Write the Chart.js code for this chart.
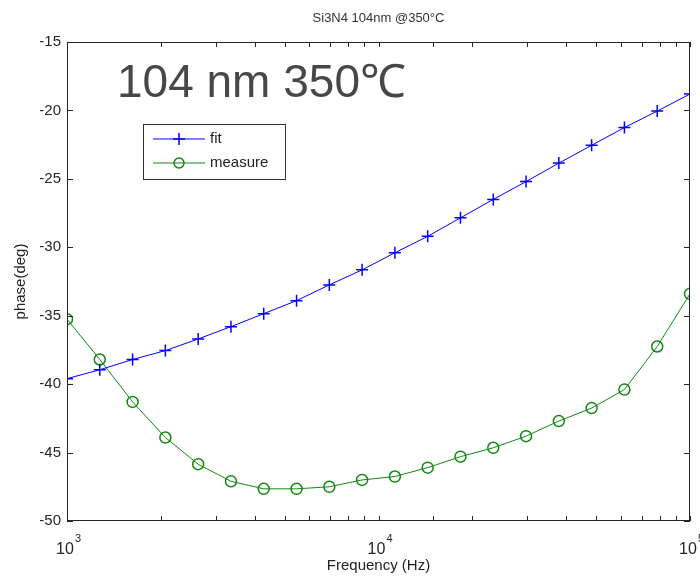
<!DOCTYPE html>
<html>
<head>
<meta charset="UTF-8">
<title>Si3N4 104nm @350°C</title>
<script src="https://cdn.jsdelivr.net/npm/chart.js"></script>
<style>
    body { margin: 0; background: #ffffff; }
    #wrap { width: 700px; height: 577px; }
</style>
</head>
<body>
<div id="wrap"><canvas id="phaseChart" width="700" height="577"></canvas></div>
<script>
// frequencies (Hz), 20 log-spaced points
const freqs = [1000, 1274, 1624, 2069, 2637, 3360, 4281, 5456, 6952, 8859,
               11288, 14384, 18330, 23357, 29764, 37927, 48329, 61585, 78476, 100000];
const fitPhase = [-39.6, -38.95, -38.2, -37.55, -36.7, -35.8, -34.85, -33.9, -32.75, -31.65,
                  -30.4, -29.2, -27.85, -26.5, -25.2, -23.85, -22.55, -21.25, -20.05, -18.8];
const measurePhase = [-35.25, -38.2, -41.3, -43.9, -45.85, -47.1, -47.65, -47.65, -47.5, -47.0,
                      -46.75, -46.1, -45.3, -44.65, -43.8, -42.7, -41.75, -40.4, -37.25, -33.4];
const yTicks = [-50, -45, -40, -35, -30, -25, -20, -15];

const FONT = "'Liberation Sans Narrow', 'Arial Narrow', 'Liberation Sans', Arial, sans-serif";
const AXIS = '#262626';

function toPoints(xs, ys) {
    return xs.map((x, i) => ({ x: x, y: ys[i] }));
}

// box, inward ticks, superscript x labels, title, legend and big note
const matlabLook = {
    id: 'matlabLook',
    afterDraw(chart) {
        const ctx = chart.ctx;
        const a = chart.chartArea;
        const xs = chart.scales.x;
        const ys = chart.scales.y;
        ctx.save();

        // frame
        ctx.strokeStyle = AXIS;
        ctx.lineWidth = 1;
        ctx.strokeRect(a.left + 0.5, a.top + 0.5, a.right - a.left - 1, a.bottom - a.top - 1);

        // x ticks (top & bottom, inward)
        ctx.beginPath();
        xs.ticks.forEach(t => {
            const px = Math.round(xs.getPixelForValue(t.value)) + 0.5;
            ctx.moveTo(px, a.bottom);
            ctx.lineTo(px, a.bottom - 5);
            ctx.moveTo(px, a.top);
            ctx.lineTo(px, a.top + 5);
        });
        // y ticks (left & right, inward)
        yTicks.forEach(v => {
            const py = Math.round(ys.getPixelForValue(v)) + 0.5;
            ctx.moveTo(a.left, py);
            ctx.lineTo(a.left + 6, py);
            ctx.moveTo(a.right, py);
            ctx.lineTo(a.right - 6, py);
        });
        ctx.stroke();

        // x labels with superscript exponent
        ctx.fillStyle = AXIS;
        xs.ticks.forEach(t => {
            const exp = Math.log10(t.value);
            if (Math.abs(exp - Math.round(exp)) > 1e-9) return;
            const px = xs.getPixelForValue(t.value);
            ctx.font = '16px ' + FONT;
            const w = ctx.measureText('10').width;
            ctx.textAlign = 'left';
            ctx.textBaseline = 'alphabetic';
            ctx.fillText('10', px - w / 2 - 2, a.bottom + 33);
            ctx.font = '11px ' + FONT;
            ctx.fillText(String(Math.round(exp)), px + w / 2 - 1, a.bottom + 21);
        });

        // title
        ctx.font = '13px ' + FONT;
        ctx.textAlign = 'center';
        ctx.textBaseline = 'middle';
        ctx.fillStyle = '#333333';
        ctx.fillText('Si3N4 104nm @350°C', (a.left + a.right) / 2, 18);

        // big note
        ctx.font = "46px 'Liberation Sans', Arial, sans-serif";
        ctx.textAlign = 'left';
        ctx.textBaseline = 'alphabetic';
        ctx.fillStyle = '#474747';
        ctx.fillText('104 nm 350\u2103', 117, 97);

        // legend
        const lx = 143, ly = 124, lw = 142, lh = 55;
        ctx.fillStyle = '#ffffff';
        ctx.fillRect(lx, ly, lw, lh);
        ctx.strokeStyle = '#333333';
        ctx.lineWidth = 1;
        ctx.strokeRect(lx + 0.5, ly + 0.5, lw, lh);
        chart.data.datasets.forEach((ds, i) => {
            const y = ly + 15 + i * 24;
            ctx.strokeStyle = ds.borderColor;
            ctx.lineWidth = 1;
            ctx.beginPath();
            ctx.moveTo(lx + 10, y);
            ctx.lineTo(lx + 62, y);
            ctx.stroke();
            ctx.lineWidth = 1.5;
            ctx.beginPath();
            if (ds.pointStyle === 'circle') {
                ctx.arc(lx + 36, y, 5, 0, Math.PI * 2);
            } else {
                ctx.moveTo(lx + 36, y - 6);
                ctx.lineTo(lx + 36, y + 6);
                ctx.moveTo(lx + 30, y);
                ctx.lineTo(lx + 42, y);
            }
            ctx.stroke();
            ctx.fillStyle = '#222222';
            ctx.font = '15px ' + FONT;
            ctx.textBaseline = 'middle';
            ctx.fillText(ds.label, lx + 67, y);
        });
        ctx.restore();
    }
};

new Chart(document.getElementById('phaseChart'), {
    type: 'line',
    data: {
        datasets: [
            {
                label: 'fit',
                data: toPoints(freqs, fitPhase),
                borderColor: '#0000ff',
                backgroundColor: '#0000ff',
                borderWidth: 1,
                pointStyle: 'cross',
                pointRadius: 6,
                pointBorderWidth: 1.5,
                pointBorderColor: '#0000ff',
                tension: 0
            },
            {
                label: 'measure',
                data: toPoints(freqs, measurePhase),
                borderColor: '#118811',
                backgroundColor: 'rgba(0,0,0,0)',
                borderWidth: 1,
                pointStyle: 'circle',
                pointRadius: 5.5,
                pointBorderWidth: 1.5,
                pointBorderColor: '#118811',
                pointBackgroundColor: 'rgba(0,0,0,0)',
                tension: 0
            }
        ]
    },
    options: {
        responsive: false,
        animation: false,
        layout: { padding: { top: 42, right: 10, left: 0, bottom: 0 } },
        plugins: {
            legend: { display: false },
            title: { display: false },
            tooltip: { enabled: false }
        },
        scales: {
            x: {
                type: 'logarithmic',
                min: 1000,
                max: 100000,
                grid: { display: false, drawTicks: false },
                border: { display: false },
                ticks: { display: false, autoSkip: false },
                title: {
                    display: true,
                    text: 'Frequency (Hz)',
                    color: '#222222',
                    font: { family: FONT, size: 15 },
                    padding: { top: 0, bottom: 2 }
                },
                afterFit(scale) {
                    scale.height = 56;
                    scale.paddingLeft = 0;
                    scale.paddingRight = 0;
                }
            },
            y: {
                min: -50,
                max: -15,
                grid: { display: false, drawTicks: false },
                border: { display: false },
                ticks: {
                    stepSize: 5,
                    padding: 6,
                    color: AXIS,
                    font: { family: FONT, size: 15 }
                },
                title: {
                    display: true,
                    text: 'phase(deg)',
                    color: '#222222',
                    font: { family: FONT, size: 15 },
                    padding: { top: 12, bottom: 0 }
                },
                afterFit(scale) {
                    scale.width = 67;
                }
            }
        }
    },
    plugins: [matlabLook]
});
</script>
</body>
</html>
